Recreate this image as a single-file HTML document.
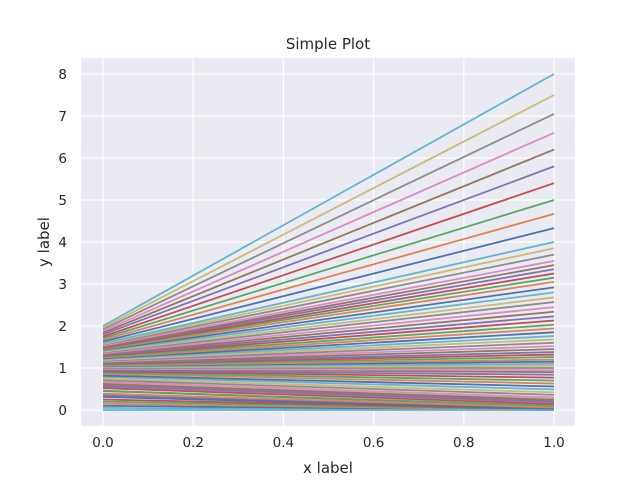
<!DOCTYPE html>
<html><head><meta charset="utf-8"><style>
body{margin:0;background:#fff;font-family:"DejaVu Sans","Liberation Sans",sans-serif;}
svg text{font-family:"DejaVu Sans","Liberation Sans",sans-serif;fill:#262626;}
</style></head><body>
<svg id="chart" width="640" height="480" viewBox="0 0 640 480" xmlns="http://www.w3.org/2000/svg">
<rect x="81" y="58" width="494" height="368" fill="#EAEAF2"/>
<g id="grid"></g><g id="lines"></g><g id="ticks"></g>
<text x="328" y="49" font-size="15" text-anchor="middle">Simple Plot</text>
<text x="328" y="473" font-size="15" text-anchor="middle">x label</text>
<text x="49" y="242" font-size="15" text-anchor="middle" transform="rotate(-90 49 242)">y label</text>
</svg>
<script>
const xTicks=[0,0.2,0.4,0.6,0.8,1.0];
const xTickLabels=["0.0","0.2","0.4","0.6","0.8","1.0"];
const yTicks=[0,1,2,3,4,5,6,7,8];
const startVals=[0.05,0.1,0.15,0.2,0.25,0.35,0.45,0.55,0.6,0.65,0,0.31,0.39,0.46,0.52,0.57,0.62,0.67,0.71,0.75,0.79,0.82,0.86,0.89,0.92,0.94,0.97,0.98,1.0,1.02,1.03,1.05,1.06,1.08,1.1,1.11,1.13,1.15,1.17,1.19,1.21,1.23,1.25,1.27,1.29,1.31,1.33,1.35,1.37,1.39,1.41,1.43,1.45,1.47,1.48,1.5,1.51,1.53,1.55,1.57,1.59,1.63,1.67,1.71,1.75,1.8,1.84,1.88,1.92,1.96,2.0];
const endVals=[0,0,0.003,0.008,0.016,0.043,0.09,0.17,0.22,0.27,0,0.03,0.06,0.1,0.14,0.19,0.24,0.3,0.36,0.42,0.49,0.56,0.63,0.7,0.77,0.84,0.9,0.95,1.0,1.05,1.1,1.15,1.2,1.26,1.32,1.38,1.45,1.52,1.6,1.68,1.76,1.85,1.94,2.03,2.13,2.23,2.34,2.45,2.57,2.68,2.8,2.92,3.05,3.15,3.25,3.35,3.45,3.55,3.7,3.85,4.0,4.33,4.67,5.0,5.4,5.8,6.2,6.6,7.05,7.5,8.0];
const colors=["#4C72B0","#DD8452","#55A868","#C44E52","#8172B3","#937860","#DA8BC3","#8C8C8C","#CCB974","#64B5CD"];
const X=v=>103+v*451, Y=v=>410-v*42;
const NS="http://www.w3.org/2000/svg";
const grid=document.getElementById('grid'),ticks=document.getElementById('ticks'),lines=document.getElementById('lines');
xTicks.forEach((t,i)=>{
 const l=document.createElementNS(NS,'line');
 l.setAttribute('x1',X(t));l.setAttribute('x2',X(t));l.setAttribute('y1',58);l.setAttribute('y2',426);
 l.setAttribute('stroke','#fff');l.setAttribute('stroke-width','1.2');
 
 
 grid.appendChild(l);
 const tx=document.createElementNS(NS,'text');
 tx.setAttribute('x',X(t));tx.setAttribute('y',447);tx.setAttribute('font-size','13.5');tx.setAttribute('text-anchor','middle');
 tx.textContent=xTickLabels[i];
 
 
 ticks.appendChild(tx);
});
yTicks.forEach(t=>{
 const l=document.createElementNS(NS,'line');
 l.setAttribute('x1',81);l.setAttribute('x2',575);l.setAttribute('y1',Y(t));l.setAttribute('y2',Y(t));
 l.setAttribute('stroke','#fff');l.setAttribute('stroke-width','1.2');
 
 
 grid.appendChild(l);
 const tx=document.createElementNS(NS,'text');
 tx.setAttribute('x',67);tx.setAttribute('y',Y(t)+5);tx.setAttribute('font-size','13.5');tx.setAttribute('text-anchor','end');
 tx.textContent=String(t);
 
 
 ticks.appendChild(tx);
});
const N=startVals.length;
for(let i=0;i<N;i++){
 const l=document.createElementNS(NS,'line');
 l.setAttribute('x1',X(0));l.setAttribute('x2',X(1));
 l.setAttribute('y1',Y(startVals[i]));l.setAttribute('y2',Y(endVals[i]));
 l.setAttribute('stroke',colors[(i+10-((N-1)%10)+9)%10]);l.setAttribute('stroke-width','1.8');
 
 
 lines.appendChild(l);
}
</script>
</body></html>
